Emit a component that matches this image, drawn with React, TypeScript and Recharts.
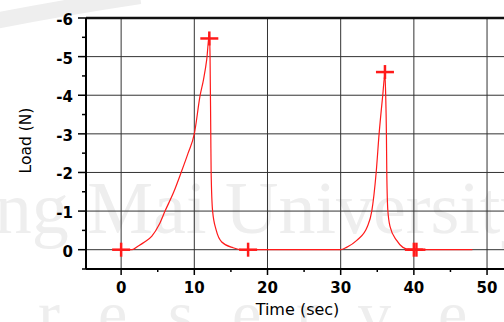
import React from "react"
import { ComposedChart, Line, Scatter, XAxis, YAxis, ReferenceLine } from "recharts"

// load curve (time in s, load in N, negative = compression)
const TIME = [
  0, 1.5, 2.3, 3.2, 4.2, 5.2, 6.0, 7.2, 8.2, 9.15, 10.0, 10.8, 11.25, 11.7, 12.07,
  12.15, 12.25, 12.3, 12.5, 13.0, 13.75, 15.3, 16.5, 30.0, 30.8, 32.2, 33.65, 34.25,
  34.85, 35.25, 35.75, 36.05, 36.15, 36.25, 36.3, 36.45, 36.75, 37.65, 38.5, 39.5, 48.0,
]
const LOAD = [
  0, 0, -0.09, -0.2, -0.35, -0.65, -1.0, -1.5, -2.0, -2.5, -3.0, -4.0, -4.4, -4.93, -5.6,
  -5.0, -3.0, -2.0, -1.0, -0.5, -0.2, -0.05, 0, 0, -0.06, -0.24, -0.6, -1.0,
  -2.0, -3.0, -4.0, -4.55, -4.0, -3.0, -2.0, -1.0, -0.6, -0.24, -0.06, 0, 0,
]

// "+" markers
const MARK_TIME = [0, 12.05, 17.35, 36.05, 40.0, 40.35]
const MARK_LOAD = [0, -5.47, 0, -4.6, 0, 0]

const X_TICKS = [0, 5, 10, 15, 20, 25, 30, 35, 40, 45, 50]
const Y_TICKS = [-6, -5.5, -5, -4.5, -4, -3.5, -3, -2.5, -2, -1.5, -1, -0.5, 0, 0.5]
const X_GRID = [0, 10, 20, 30, 40, 50]
const Y_GRID = [-5, -4, -3, -2, -1, 0]

const curve = TIME.map((t, i) => ({ t, load: LOAD[i] }))
const marks = MARK_TIME.map((t, i) => ({ t, load: MARK_LOAD[i] }))

const RED = "#ff1a1a"
const LABEL_FONT = "Verdana, 'DejaVu Sans', sans-serif"

const XTick = ({ x, y, payload }: any) => {
  const major = payload.value % 10 === 0
  return (
    <g>
      <line x1={x} x2={x} y1={y} y2={y + (major ? 6 : 3)} stroke="#000" strokeWidth={1.5} />
      {major && (
        <text x={x} y={y + 24} textAnchor="middle" fontFamily={LABEL_FONT} fontSize={15} fontWeight="bold" fill="#000">
          {payload.value}
        </text>
      )}
    </g>
  )
}

const YTick = ({ x, y, payload }: any) => {
  const major = Number.isInteger(payload.value)
  return (
    <g>
      <line x1={x - (major ? 8 : 4)} x2={x} y1={y} y2={y} stroke="#000" strokeWidth={1.5} />
      {major && (
        <text x={x - 13} y={y + 7} textAnchor="end" fontFamily={LABEL_FONT} fontSize={15} fontWeight="bold" fill="#000">
          {payload.value}
        </text>
      )}
    </g>
  )
}

const YTitle = ({ viewBox }: any) => {
  const cx = viewBox.x + 26
  const cy = viewBox.y + viewBox.height / 2 - 3
  return (
    <text x={cx} y={cy} transform={`rotate(-90 ${cx} ${cy})`} textAnchor="middle" dominantBaseline="central"
      fontFamily={LABEL_FONT} fontSize={15.5} fill="#000">
      Load (N)
    </text>
  )
}

const PlusMark = ({ cx, cy }: any) => (
  <g stroke={RED} strokeWidth={2.5}>
    <line x1={cx - 9} x2={cx + 9} y1={cy} y2={cy} />
    <line x1={cx} x2={cx} y1={cy - 7} y2={cy + 7} />
  </g>
)

export default function App() {
  return (
    <div style={{ position: "absolute", left: 0, top: 0, width: 504, height: 322, overflow: "hidden", background: "#fff" }}>
      {/* faint watermark behind the chart */}
      <svg width={504} height={322} style={{ position: "absolute", left: 0, top: 0 }}>
        <path d="M -10 22 Q 60 8 140 -4" fill="none" stroke="#eeeeee" strokeWidth={16} />
        <text x={-145} y={233} fontFamily="'Liberation Serif', serif" fontSize={74} fill="#eeeeee">
          Chiang Mai University
        </text>
        <text x="38 98 168 232 296 358 438" y={336} fontFamily="'Liberation Serif', serif" fontSize={66} fill="#eeeeee">
          reserve
        </text>
      </svg>
      <div style={{ position: "absolute", left: 0, top: 0 }}>
        <ComposedChart width={540} height={322} margin={{ top: 18, right: 31, bottom: 0, left: 0 }}>
          <XAxis
            type="number"
            dataKey="t"
            domain={[-4.8, 53]}
            ticks={X_TICKS}
            tick={<XTick />}
            tickLine={false}
            tickSize={0}
            tickMargin={0}
            height={53}
            axisLine={{ stroke: "#000", strokeWidth: 2 }}
            allowDataOverflow
            label={{ value: "Time (sec)", position: "insideBottom", offset: 7, fontFamily: LABEL_FONT, fontSize: 16, fill: "#000" }}
          />
          <YAxis
            type="number"
            dataKey="load"
            domain={[-6, 0.5]}
            reversed
            ticks={Y_TICKS}
            tick={<YTick />}
            tickLine={false}
            tickSize={0}
            tickMargin={0}
            width={86}
            interval={0}
            axisLine={{ stroke: "#000", strokeWidth: 2 }}
            allowDataOverflow
            label={<YTitle />}
          />
          {X_GRID.map((v) => (
            <ReferenceLine key={`vx${v}`} x={v} stroke="#333" strokeWidth={1} />
          ))}
          {Y_GRID.map((v) => (
            <ReferenceLine key={`hy${v}`} y={v} stroke="#333" strokeWidth={1} />
          ))}
          <ReferenceLine y={-6} stroke="#111" strokeWidth={2.5} />
          <Line
            data={curve}
            dataKey="load"
            type="monotone"
            stroke={RED}
            strokeWidth={1.2}
            dot={false}
            isAnimationActive={false}
          />
          <Scatter data={marks} dataKey="load" shape={<PlusMark />} isAnimationActive={false} />
        </ComposedChart>
      </div>
    </div>
  )
}
